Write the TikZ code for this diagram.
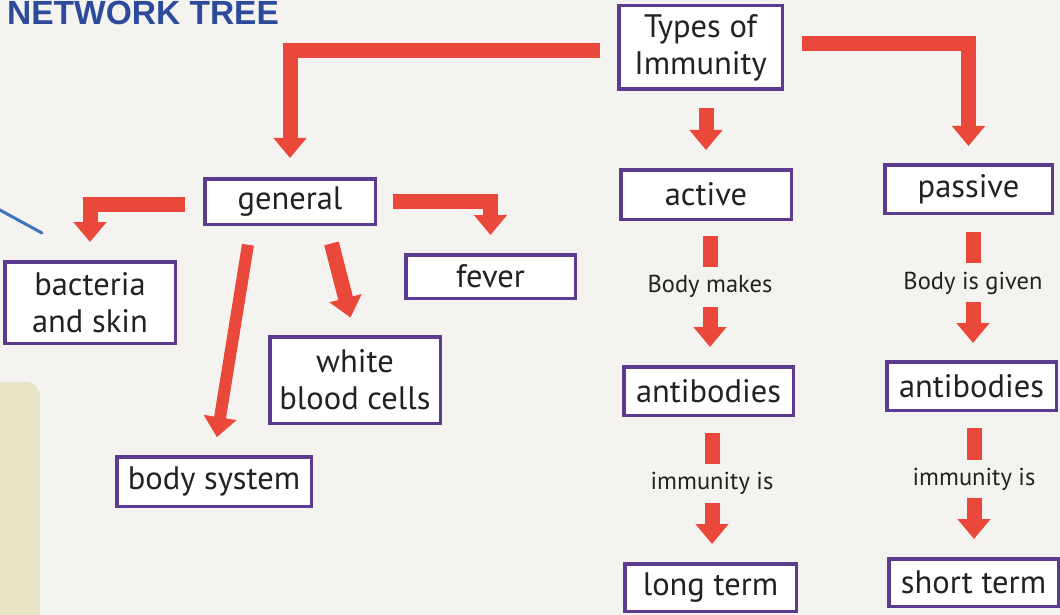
\documentclass[tikz,border=0pt]{standalone}
\usepackage{fontspec}
\setmainfont{PT Sans}
\newfontfamily\titlefont{Liberation Sans}
\usetikzlibrary{arrows.meta,calc}
\definecolor{arrred}{HTML}{E9483A}
\definecolor{boxpurple}{HTML}{5B3A90}
\definecolor{paper}{HTML}{F4F3EF}
\definecolor{titleblue}{HTML}{2E4A9B}
\definecolor{inkgray}{HTML}{222222}
\definecolor{panel}{HTML}{E8E4C8}
\definecolor{penblue}{HTML}{3D74BC}
\begin{document}
\begin{tikzpicture}[x=1pt,y=-1pt,
  box/.style={draw=boxpurple, line width=3.5pt, fill=white, inner sep=0pt,
    align=center, text=inkgray, font=\fontsize{32.5}{37}\selectfont},
  lbl/.style={inner sep=0pt, minimum height=38pt, text=inkgray,
    font=\fontsize{24.5}{28}\selectfont},
  arr/.style={draw=arrred, line width=15pt, line join=miter,
    -{Triangle[width=32pt,length=20pt]}},
  bar/.style={draw=arrred, line width=15pt},
]
\clip (0,0) rectangle (1060,615);
\fill[paper] (0,0) rectangle (1060,615);
% page decorations
\fill[panel, rounded corners=14pt] (-20,382) rectangle (40,640);
\coordinate (pa) at (-2,209);
\coordinate (pb) at (42,233);
\draw[penblue, line width=3pt, line cap=round] (pa) -- (pb);
\node[anchor=base west, inner sep=0pt, text=titleblue,
  font=\titlefont\fontsize{33.5}{34}\selectfont\bfseries] (title) at (7,25) {NETWORK TREE};

% boxes
\node[box, minimum width=163.5pt, minimum height=83.5pt] (types) at (700.5,47.5) {Types of\\Immunity};
\node[box, minimum width=170.5pt, minimum height=49.5pt] (active) at (706,194.5) {active};
\node[box, minimum width=167.5pt, minimum height=48.5pt] (passive) at (968.5,189) {passive};
\node[box, minimum width=170.5pt, minimum height=45.5pt] (general) at (290,201.5) {general};
\node[box, minimum width=170.5pt, minimum height=81.5pt] (bacteria) at (90,302.5) {bacteria\\and skin};
\node[box, minimum width=169.5pt, minimum height=43.5pt] (fever) at (490.5,276.5) {fever};
\node[box, minimum width=170.5pt, minimum height=86.5pt] (wbc) at (355,380) {white\\blood cells};
\node[box, minimum width=194.5pt, minimum height=49.5pt] (body) at (214,481.5) {body system};
\node[box, minimum width=169.5pt, minimum height=48.5pt] (ab1) at (708.5,391) {antibodies};
\node[box, minimum width=171.5pt, minimum height=47.5pt] (lt) at (710.5,587.5) {long term};
\node[box, minimum width=169.5pt, minimum height=48.5pt] (ab2) at (971.5,386) {antibodies};
\node[box, minimum width=169.5pt, minimum height=47.5pt] (st) at (973.5,582.5) {short term};

% labels
\node[lbl] (bm) at (710,286) {Body makes};
\node[lbl] (big) at (973,283) {Body is given};
\node[lbl] (imm1) at (712,483) {immunity is};
\node[lbl] (imm2) at (974,479) {immunity is};

% connectors from Types of Immunity
\draw[arr, shorten <=17pt, shorten >=19pt] ([yshift=-3pt]types.west) -| (general.north);
\draw[arr, shorten <=18pt, shorten >=17pt] ([yshift=3.5pt]types.east) -| (passive.north);
\draw[arr, shorten <=17pt, shorten >=18pt] (active.north |- types.south) -- (active.north);

% connectors from general
\draw[arr, shorten <=16pt, shorten >=18pt] (general.east) -| (fever.north);
\draw[arr, shorten <=18pt, shorten >=18pt] ([yshift=-3pt]general.west) -| (bacteria.north);
\draw[arr, line width=12pt, shorten <=19pt, shorten >=18pt] ([xshift=-39pt]general.south) -- (body.north);
\draw[arr, shorten <=18pt, shorten >=18pt] ([xshift=37pt]general.south) -- (wbc.north);

% active chain
\draw[bar, shorten <=15pt] (bm.north |- active.south) -- (bm.north);
\draw[arr, shorten <=2pt, shorten >=18pt] (bm.south) -- (bm.south |- ab1.north);
\draw[bar, shorten <=16pt] (imm1.north |- ab1.south) -- (imm1.north);
\draw[arr, shorten <=1pt, shorten >=18pt] (imm1.south) -- (imm1.south |- lt.north);

% passive chain
\draw[bar, shorten <=17pt, shorten >=1pt] (big.north |- passive.south) -- (big.north);
\draw[arr, shorten >=17pt] (big.south) -- (big.south |- ab2.north);
\draw[bar, shorten <=16pt] (imm2.north |- ab2.south) -- (imm2.north);
\draw[arr, shorten >=18pt] (imm2.south) -- (imm2.south |- st.north);
\end{tikzpicture}
\end{document}
